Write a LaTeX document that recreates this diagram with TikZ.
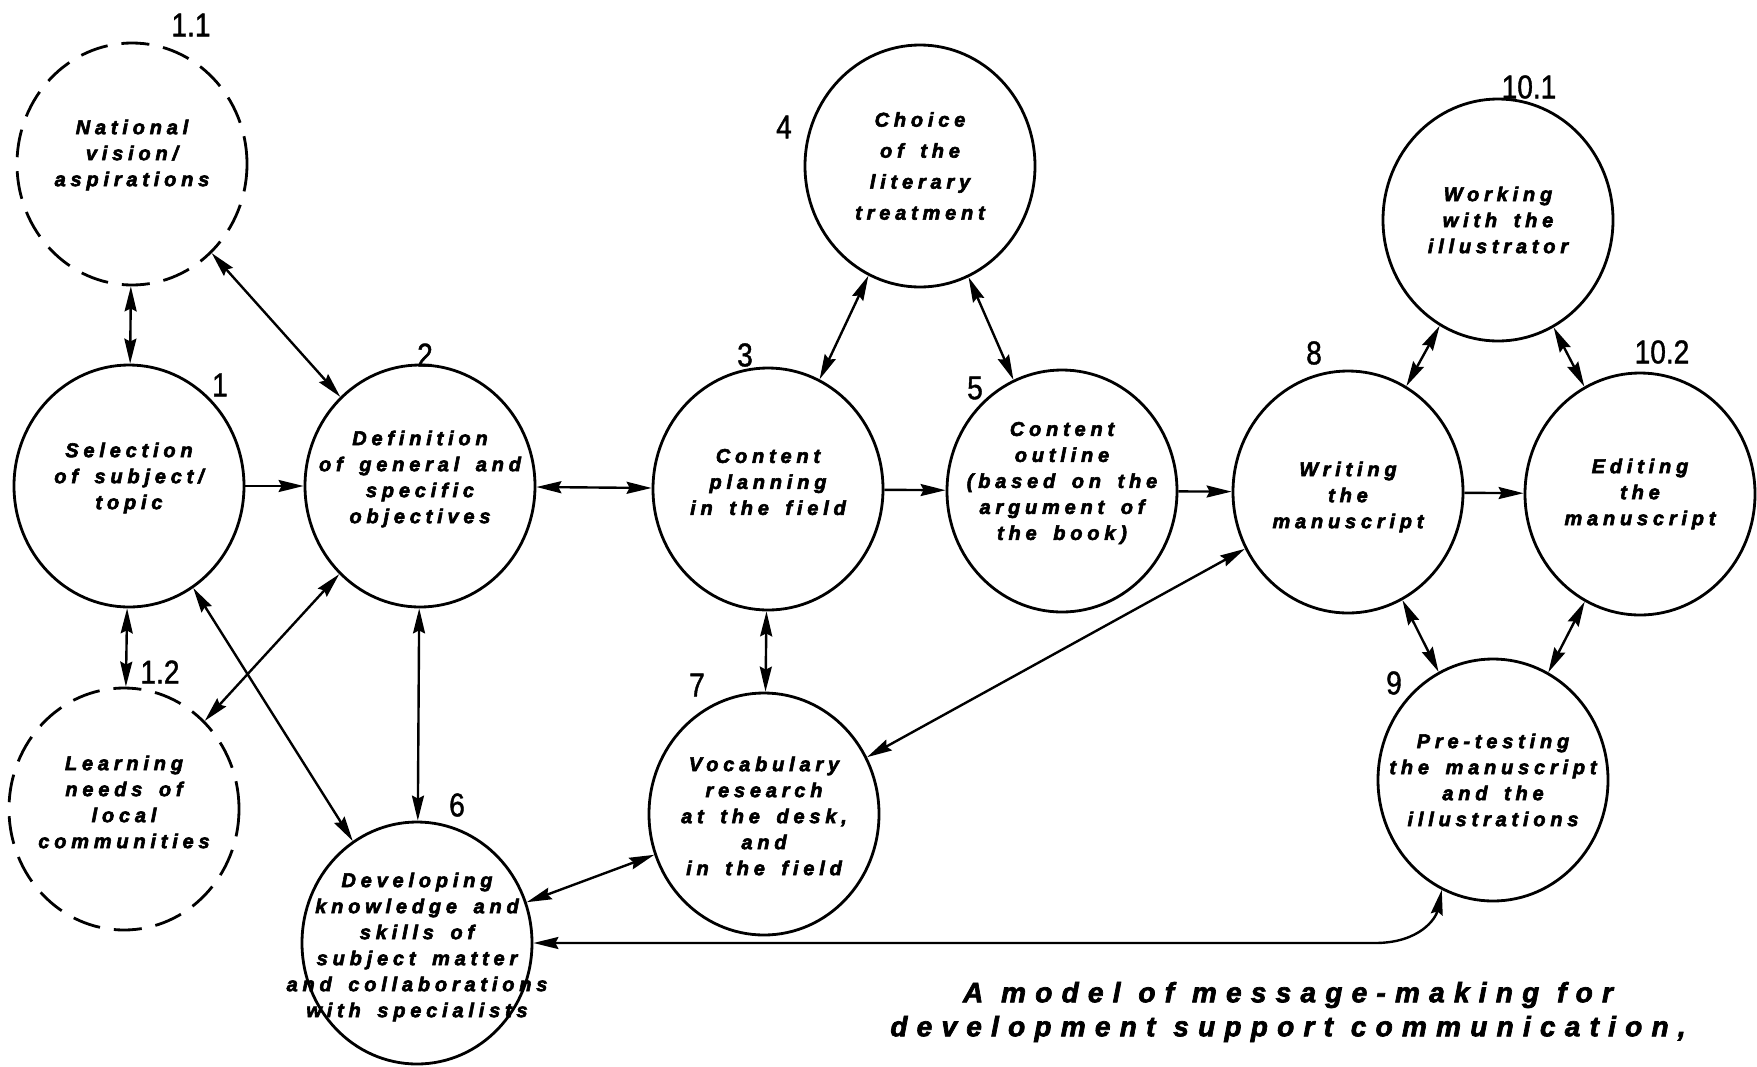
\documentclass[tikz,border=0pt]{standalone}
\usepackage{fontspec}
\setmainfont{Liberation Sans}
\newfontfamily\nodefont[LetterSpace=24,WordSpace=1.6,FakeBold=3]{Liberation Sans}
\newfontfamily\capfont[LetterSpace=33,WordSpace=1.05,FakeBold=2.5]{Liberation Sans}
\newfontfamily\numfont[FakeStretch=0.85,FakeBold=1.2]{Liberation Sans}
\usetikzlibrary{shapes.geometric,arrows.meta}
\begin{document}
\begin{tikzpicture}[x=1pt,y=-1pt,
  circ/.style={ellipse, draw, line width=2.8pt, minimum width=230pt, minimum height=242pt, inner sep=0pt},
  dcirc/.style={circ, dash pattern=on 28pt off 14pt},
  ntext/.style={align=center, font={\nodefont\bfseries\itshape\fontsize{20pt}{26pt}\selectfont}, inner sep=0pt},
  numlab/.style={font={\numfont\fontsize{33pt}{33pt}\selectfont}, inner sep=0pt},
  tip/.tip={Stealth[length=25pt,width=12pt,inset=3pt]},
  conn/.style={line width=2.4pt, tip-tip},
  oneway/.style={line width=2.4pt, -tip},
]
\fill[white] (0,0) rectangle (1757,1066);
\useasboundingbox (0,0) rectangle (1757,1066);

% circles
\node[dcirc] (n11) at (132,164) {};
\node[circ]  (n1)  at (129,486) {};
\node[dcirc] (n12) at (124,809) {};
\node[circ]  (n2)  at (420,486) {};
\node[circ]  (n6)  at (417,943) {};
\node[circ]  (n3)  at (768,489) {};
\node[circ]  (n4)  at (920,166) {};
\node[circ]  (n5)  at (1062,491) {};
\node[circ]  (n7)  at (764,814) {};
\node[circ]  (n8)  at (1348,492) {};
\node[circ]  (n101) at (1498,220) {};
\node[circ]  (n102) at (1640,494) {};
\node[circ]  (n9)  at (1493,780) {};

% texts
\node[ntext, yshift=9pt] (t11) at (n11) {National\\vision/\\aspirations};
\node[ntext, yshift=8pt] (t1) at (n1) {Selection\\of subject/\\topic};
\node[ntext, yshift=7pt] (t12) at (n12) {Learning\\needs of\\local\\communities};
\node[ntext, yshift=7pt] (t2) at (n2) {Definition\\of general and\\specific\\objectives};
\node[ntext, yshift=-4pt] (t6) at (n6) {Developing\\knowledge and\\skills of\\subject matter\\and collaborations\\with specialists};
\node[ntext, yshift=7pt] (t3) at (n3) {Content\\planning\\in the field};
\node[ntext, font={\nodefont\bfseries\itshape\fontsize{20pt}{31pt}\selectfont}] (t4) at (n4) {Choice\\of the\\literary\\treatment};
\node[ntext, yshift=8pt] (t5) at (n5) {Content\\outline\\(based on the\\argument of\\the book)};
\node[ntext, yshift=-2pt] (t7) at (n7) {Vocabulary\\research\\at the desk,\\and\\in the field};
\node[ntext, yshift=-5pt] (t8) at (n8) {Writing\\the\\manuscript};
\node[ntext] (t101) at (n101) {Working\\with the\\illustrator};
\node[ntext] (t102) at (n102) {Editing\\the\\manuscript};
\node[ntext] (t9) at (n9) {Pre-testing\\the manuscript\\and the\\illustrations};

% number labels
\node[numlab] (l11) at (191,25) {1.1};
\node[numlab] (l1) at (220,385) {1};
\node[numlab] (l2) at (425,355) {2};
\node[numlab] (l12) at (160,672) {1.2};
\node[numlab] (l6) at (457,805) {6};
\node[numlab] (l3) at (745,355) {3};
\node[numlab] (l4) at (784,127) {4};
\node[numlab] (l5) at (975,388) {5};
\node[numlab] (l7) at (697,685) {7};
\node[numlab] (l8) at (1314,353) {8};
\node[numlab] (l101) at (1529,87) {10.1};
\node[numlab] (l102) at (1662,352) {10.2};
\node[numlab] (l9) at (1394,683) {9};

% connectors
\draw[conn] (n11) -- (n1);
\draw[conn] (n11) -- (n2);
\draw[oneway] (n1) -- (n2);
\draw[conn] (n2) -- (n3);
\draw[oneway] (n3) -- (n5);
\draw[oneway] (n5) -- (n8);
\draw[oneway] (n8) -- (n102);
\draw[conn] (n3) -- (n4);
\draw[conn] (n4) -- (n5);
\draw[conn] (n8) -- (n101);
\draw[conn] (n101) -- (n102);
\draw[conn] (n8) -- (n9);
\draw[conn] (n102) -- (n9);
\draw[conn] (n3) -- (n7);
\draw[conn] (n7) -- (n8);
\draw[conn] (n6) -- (n7);
\draw[conn] (n1) -- (n6);
\draw[conn] (n2) -- (n6);
\draw[conn] (n2) -- (n12);
\draw[conn] (n1) -- (n12);
\coordinate (bend) at (1375,943);
\draw[conn] (n6.east) -- (bend) .. controls (1420,943) and (1436,918) .. (n9.245);

% caption
\node[align=center, inner sep=0pt, font={\capfont\bfseries\itshape\fontsize{28pt}{34pt}\selectfont}] (cap) at (1288,1012) {A model of message-making for\\development support communication,};
\end{tikzpicture}
\end{document}
